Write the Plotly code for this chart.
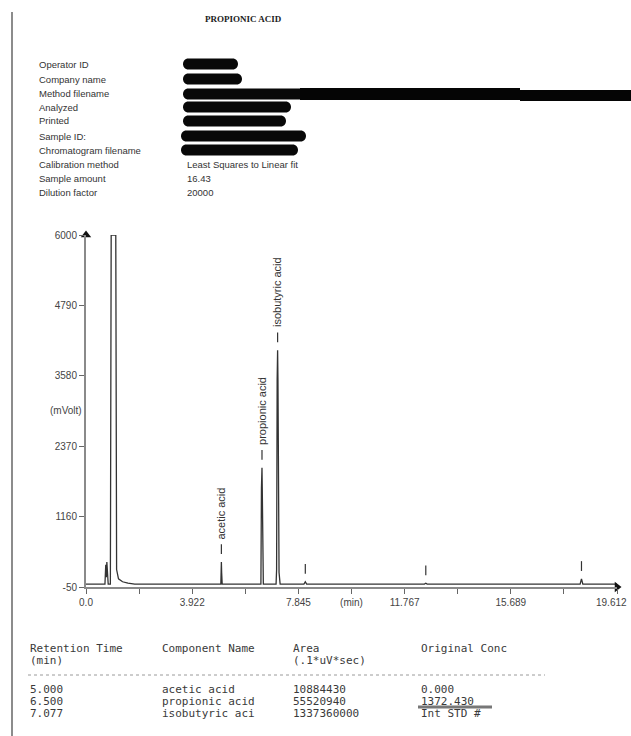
import plotly.graph_objects as go

# ---- chromatogram signal (retention time in min, detector response in mV) ----
time_min = [0.00, 0.70, 0.73, 0.75, 0.77, 0.79, 0.82, 0.90, 0.93, 1.10, 1.13, 1.20, 1.35, 1.55,
            1.80, 4.98, 4.99, 5.00, 5.01, 5.03, 6.46, 6.48, 6.50, 6.51, 6.53, 6.55,
            7.02, 7.04, 7.06, 7.077, 7.09, 7.10, 7.13, 7.17, 8.05, 8.10, 8.15,
            12.50, 12.55, 12.60, 18.25, 18.30, 18.35, 19.612]
signal_mv = [0, 0, 330, 120, 380, 60, 0, 0, 6000, 6000, 250, 90, 40, 15,
             0, 0, 250, 380, 200, 0, 0, 1650, 2000, 1650, 400, 0,
             0, 250, 3500, 4020, 3500, 1450, 200, 0, 0, 40, 0,
             0, 15, 0, 0, 90, 0, 0]

# ---- integrated peaks ----
peak_times = [5.000, 6.500, 7.077, 8.10, 12.55, 18.30]
peak_names = ["acetic acid", "propionic acid", "isobutyric acid", "", "", ""]

# ---- axis ticks ----
x_tickvals = [0.0, 1.961, 3.922, 5.884, 7.845, 9.806, 11.767, 13.729, 15.689, 17.651, 19.612]
x_ticktext = ["0.0", "", "3.922", "", "7.845", "(min)", "11.767", "", "15.689", "", ""]
x_end_label = "19.612"
y_tickvals = [-50, 1160, 2370, 3580, 4790, 6000]
y_ticktext = ["-50", "1160", "2370", "3580", "4790", "6000"]

# ---- report header ----
report_title = "PROPIONIC ACID"
header_labels = ["Operator ID", "Company name", "Method filename", "Analyzed", "Printed",
                 "Sample ID:", "Chromatogram filename", "Calibration method",
                 "Sample amount", "Dilution factor"]
header_values = ["", "", "", "", "", "", "", "Least Squares to Linear fit", "16.43", "20000"]

# ---- results table ----
table_header1 = ["Retention Time", "Component Name", "Area", "Original Conc"]
table_header2 = ["(min)", "", "(.1*uV*sec)", ""]
ret_times = ["5.000", "6.500", "7.077"]
components = ["acetic acid", "propionic acid", "isobutyric aci"]
areas = ["10884430", "55520940", "1337360000"]
orig_conc = ["0.000", "1372.430", "Int STD #"]

W, H = 631, 736
L, R, T, B = 86, 14, 235, 149
PW, PH = W - L - R, H - T - B


def px(x):
    return (x - L) / PW


def py(y):
    return (H - B - y) / PH


def pill(x0, x1, yc, h):
    """Rounded black bar (page pixels) as an SVG path in paper units."""
    r = h / 2.0
    k = r * 1.33
    pts = [
        f"M{px(x0 + r)},{py(yc - r)}",
        f"L{px(x1 - r)},{py(yc - r)}",
        f"C{px(x1 - r + k)},{py(yc - r)} {px(x1 - r + k)},{py(yc + r)} {px(x1 - r)},{py(yc + r)}",
        f"L{px(x0 + r)},{py(yc + r)}",
        f"C{px(x0 + r - k)},{py(yc + r)} {px(x0 + r - k)},{py(yc - r)} {px(x0 + r)},{py(yc - r)}",
        "Z",
    ]
    return dict(type="path", xref="paper", yref="paper", path=" ".join(pts),
                fillcolor="#080808", line=dict(width=0))


INK = "#333333"
AXIS = "#8a8a8a"

fig = go.Figure()

fig.add_trace(go.Scatter(
    x=time_min, y=signal_mv, mode="lines",
    line=dict(color=INK, width=1.3), hoverinfo="skip", showlegend=False,
))

# peak markers above each detected apex
apex = [signal_mv[time_min.index(t)] for t in peak_times]
mark_y = [a + 220 for a in apex]
fig.add_trace(go.Scatter(
    x=peak_times, y=mark_y, mode="markers",
    marker=dict(symbol="line-ns", size=7, line=dict(color=INK, width=1.2)),
    hoverinfo="skip", showlegend=False, cliponaxis=False,
))

# axis arrowheads
fig.add_trace(go.Scatter(
    x=[0], y=[6000], mode="markers",
    marker=dict(symbol="triangle-up", size=9, color="#111"),
    hoverinfo="skip", showlegend=False, cliponaxis=False,
))
fig.add_trace(go.Scatter(
    x=[19.612], y=[-50], mode="markers",
    marker=dict(symbol="triangle-right", size=9, color="#111"),
    hoverinfo="skip", showlegend=False, cliponaxis=False,
))

tick_font = dict(family="Liberation Sans, Arial", size=10, color="#444")

ann = []
for t, y, name in zip(peak_times, mark_y, peak_names):
    if name:
        ann.append(dict(x=t, y=y, xref="x", yref="y", text=name, textangle=-90,
                        showarrow=False, xanchor="center", yanchor="bottom", yshift=8,
                        font=dict(family="Liberation Sans, Arial", size=11, color=INK)))

# end-of-axis label, kept inside the page
ann.append(dict(x=x_tickvals[-1], y=0, xref="x", yref="paper", text=x_end_label,
                showarrow=False, xanchor="right", yanchor="top", yshift=-8, xshift=12,
                font=tick_font))
ann.append(dict(x=px(84), y=py(410), xref="paper", yref="paper", text="(mVolt)",
                showarrow=False, xanchor="right", yanchor="middle", font=tick_font))

# report header
ann.append(dict(x=px(243), y=py(19), xref="paper", yref="paper", text="<b>" + report_title + "</b>",
                showarrow=False, xanchor="center", yanchor="middle",
                font=dict(family="Liberation Serif, serif", size=9, color="#222")))
row_y = [64, 79, 93, 107, 121, 136, 150, 164, 178, 193]
hdr_font = dict(family="Liberation Sans Narrow, Liberation Sans", size=9.5, color=INK)
for lab, val, y in zip(header_labels, header_values, row_y):
    ann.append(dict(x=px(37), y=py(y), xref="paper", yref="paper", text=lab,
                    showarrow=False, xanchor="left", yanchor="middle", font=hdr_font))
    if val:
        ann.append(dict(x=px(185), y=py(y), xref="paper", yref="paper", text=val,
                        showarrow=False, xanchor="left", yanchor="middle", font=hdr_font))

# results table
col_x = [28, 160, 291, 419]
mono = dict(family="DejaVu Sans Mono, Liberation Mono", size=11, color="#3a3a3a")
for cx, h1, h2 in zip(col_x, table_header1, table_header2):
    ann.append(dict(x=px(cx), y=py(648), xref="paper", yref="paper", text=h1,
                    showarrow=False, xanchor="left", yanchor="middle", font=mono))
    if h2:
        ann.append(dict(x=px(cx), y=py(660), xref="paper", yref="paper", text=h2,
                        showarrow=False, xanchor="left", yanchor="middle", font=mono))
for i, y in enumerate([689, 701, 713]):
    for cx, col in zip(col_x, [ret_times, components, areas, orig_conc]):
        ann.append(dict(x=px(cx), y=py(y), xref="paper", yref="paper", text=col[i],
                        showarrow=False, xanchor="left", yanchor="middle", font=mono))

shapes = []
# page edge rule
shapes.append(dict(type="line", xref="paper", yref="paper", x0=px(12), x1=px(12),
                   y0=py(12), y1=py(736), line=dict(color="#8c8c8c", width=2)))
# redacted header fields
bars = [(183, 238, 64), (183, 242, 79), (183, 312, 94), (183, 291, 107),
        (183, 286, 121), (181, 306, 136), (181, 298, 150)]
for x0, x1, y in bars:
    shapes.append(pill(x0, x1, y, 11))
shapes.append(dict(type="rect", xref="paper", yref="paper", x0=px(300), x1=px(520),
                   y0=py(100), y1=py(88), fillcolor="#050505", line=dict(width=0)))
shapes.append(dict(type="rect", xref="paper", yref="paper", x0=px(520), x1=px(631),
                   y0=py(101), y1=py(90), fillcolor="#050505", line=dict(width=0)))
# table rule and pen mark
shapes.append(dict(type="line", xref="paper", yref="paper", x0=px(28), x1=px(545),
                   y0=py(675), y1=py(675), line=dict(color="#9a9a9a", width=1, dash="dot")))
shapes.append(dict(type="line", xref="paper", yref="paper", x0=px(418), x1=px(492),
                   y0=py(707), y1=py(707), line=dict(color="#777", width=3)))

fig.update_layout(
    width=W, height=H, margin=dict(l=L, r=R, t=T, b=B),
    paper_bgcolor="white", plot_bgcolor="white",
    annotations=ann, shapes=shapes, showlegend=False,
    xaxis=dict(range=[0, 19.612], tickvals=x_tickvals, ticktext=x_ticktext,
               showline=True, linecolor=AXIS, linewidth=2, ticks="outside",
               ticklen=5, tickcolor="#666", tickwidth=1, showgrid=False, zeroline=False,
               tickfont=tick_font),
    yaxis=dict(range=[-50, 6000], tickvals=y_tickvals, ticktext=y_ticktext,
               showline=True, linecolor=AXIS, linewidth=2, ticks="outside",
               ticklen=5, tickcolor="#666", tickwidth=1, showgrid=False, zeroline=False,
               tickfont=tick_font),
)

fig.write_html("out.html")
